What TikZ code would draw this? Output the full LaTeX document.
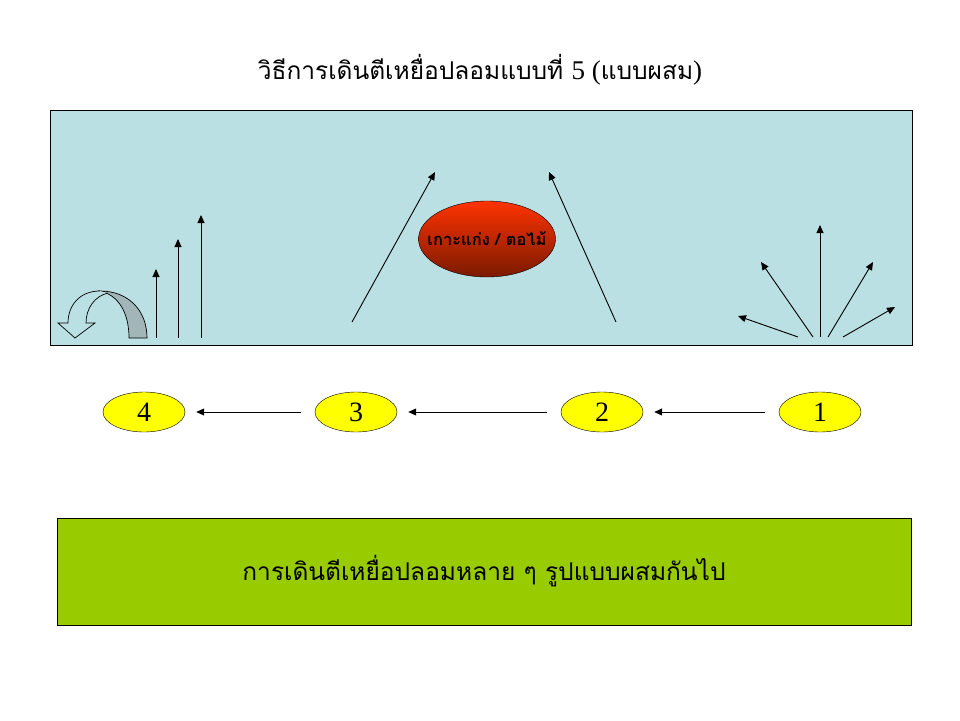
\documentclass[tikz,border=0pt]{standalone}
\usepackage{fontspec}
\setmainfont{Liberation Serif}
\newfontfamily\thaifont[Script=Thai]{Loma}
\usetikzlibrary{arrows.meta,shapes.geometric}
\definecolor{lagoon}{HTML}{BBE0E3}
\definecolor{grass}{HTML}{99CC00}
\definecolor{sun}{HTML}{FFFF00}
\definecolor{curl}{HTML}{A2B5B8}
\definecolor{emberhi}{HTML}{FF3300}
\definecolor{emberlo}{HTML}{7A1A00}

\begin{document}
\begin{tikzpicture}[x=1pt,y=-1pt,
    cast/.style={-{Triangle[length=8pt,width=7pt]},black,line width=0.9pt},
    spot/.style={ellipse,draw,fill=sun,minimum width=82pt,minimum height=40pt,
      inner sep=0pt,font=\fontsize{28}{28}\selectfont}]
    \useasboundingbox (0,0) rectangle (960,720);

    \node (title) at (480,70) {\fontsize{24.5}{28}\selectfont\thaifont วิธีการเดินตีเหยื่อปลอมแบบที่ \rmfamily\fontsize{27}{30}\selectfont 5 (\thaifont\fontsize{24.5}{28}\selectfont แบบผสม\rmfamily\fontsize{27}{30}\selectfont)};

    % river
    \draw[fill=lagoon,line width=0.8pt] (50,110) rectangle (912,345);

    % u-turn
    \draw[fill=curl,line width=0.7pt] (100,291) .. controls (128,291) and (147,310) .. (147,338)
      -- (129,338) .. controls (129,312) and (118,295) .. (100,291) -- cycle;
    \draw[fill=lagoon,line width=0.7pt] (100,291) .. controls (80,291) and (68,305) .. (68,323)
      -- (58,323) -- (75,338) -- (95,323) -- (86,323)
      .. controls (86,308) and (95,296) .. (108,293);

    \foreach \x/\y [count=\i] in {156/269, 178/239, 201/215} {
      \coordinate (v\i) at (\x,338);
      \coordinate (w\i) at (\x,\y);
      \draw[cast] (v\i) -- (w\i);
    }

    % snag
    \node (snag) [ellipse,draw,minimum width=137pt,minimum height=76pt,inner sep=0pt,
      top color=emberhi,bottom color=emberlo] at (487,239) {};
    \node (snagtext) at (snag) {\fontsize{16.5}{16.5}\selectfont\thaifont\bfseries เกาะแก่ง / ตอไม้};
    \coordinate (a1) at (352,322);
    \coordinate (a2) at (435,172);
    \coordinate (b1) at (616,322);
    \coordinate (b2) at (549,172);
    \draw[cast] (a1) -- (a2);
    \draw[cast] (b1) -- (b2);

    \foreach \sx/\ex/\ey [count=\i] in {798/738/316, 813/761/262, 820/820/225, 828/873/262, 843/895/307} {
      \coordinate (f\i) at (\sx,337);
      \coordinate (g\i) at (\ex,\ey);
      \draw[cast] (f\i) -- (g\i);
    }

    % steps
    \node (1) [spot] at (820,412) {1};
    \node (2) [spot] at (602,412) {2};
    \node (3) [spot] at (356,412) {3};
    \node (4) [spot] at (144,412) {4};

    \path[cast,shorten <=14pt,shorten >=11pt]
    (1) edge (2)
    (2) edge (3)
    (3) edge (4);

    \node (note) [draw,fill=grass,line width=0.8pt,minimum width=854pt,minimum height=107pt,
      font=\fontsize{24.5}{28}\selectfont\thaifont] at (484,571.5) {การเดินตีเหยื่อปลอมหลาย ๆ รูปแบบผสมกันไป};
\end{tikzpicture}
\end{document}
